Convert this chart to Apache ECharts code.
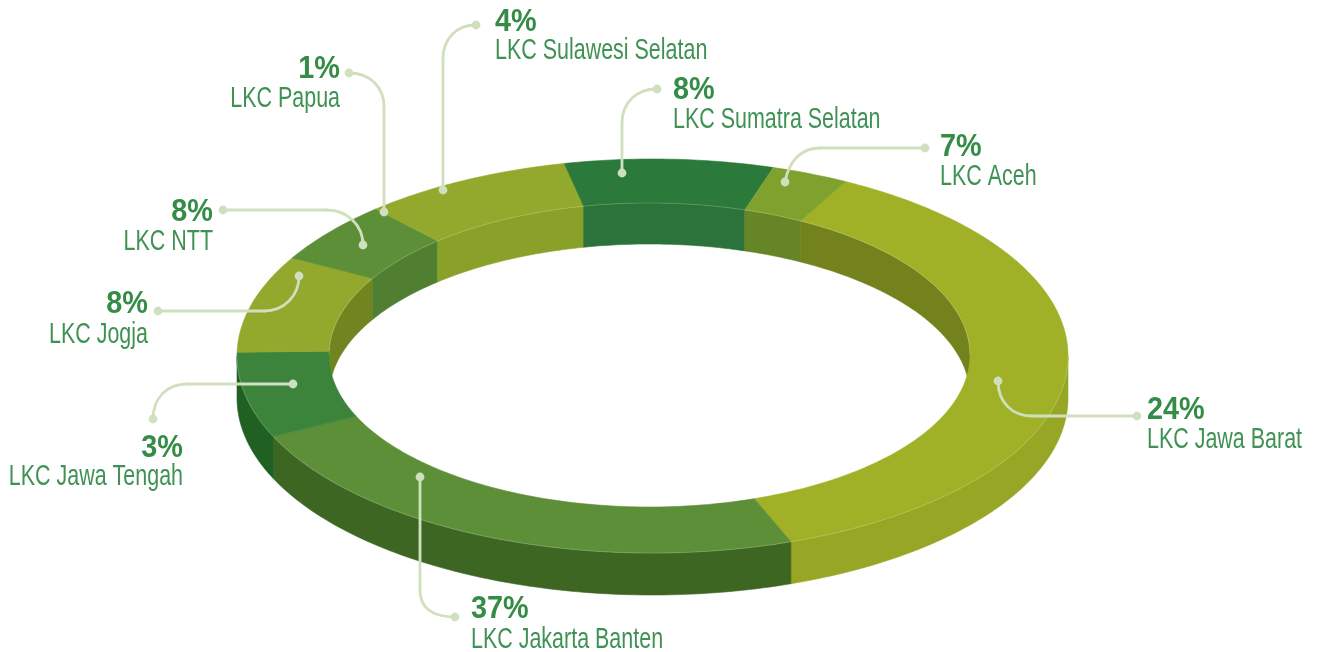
<!DOCTYPE html>
<html>
<head>
<meta charset="utf-8">
<title>LKC</title>
<script src="https://cdn.jsdelivr.net/npm/echarts@6/dist/echarts.min.js"></script>
<style>
  html, body { margin: 0; height: 100%; background: #fff; }
  #chart { width: 1317px; height: 652px; }
</style>
</head>
<body>
<div id="chart"></div>
<script>
// slices clockwise, starting at the Jawa Barat edge
const categories = ['LKC Jawa Barat', 'LKC Jakarta Banten', 'LKC Jawa Tengah', 'LKC Jogja', 'LKC NTT', 'LKC Papua', 'LKC Sulawesi Selatan', 'LKC Sumatra Selatan', 'LKC Aceh'];
// the printed numbers
const printedPercent = [24, 37, 3, 8, 8, 1, 4, 8, 7];
// the share each slice really takes up on the ring (printed numbers do not match the drawing)
const sliceShare = [36.9, 23.7, 7.0, 8.0, 5.1, 0, 8.2, 8.1, 3.0];

const topColors = ['#a0b128', '#5d8f38', '#3c843c', '#93a92d', '#5d8f38', '#5d8f38', '#93a92d', '#2c7a3b', '#7fa22f'];
const outerWallColors = ['#98a625', '#3e6623', '#216023', '#70851f', '#517f32', '#517f32', '#89a029', '#2b733a', '#668526'];
const innerWallColors = ['#73821c', '#3e6623', '#216023', '#70851f', '#517f32', '#517f32', '#89a029', '#2b733a', '#668526'];

const outer = { cx: 652.5, cy: 356, rx: 415.5, ry: 197 };
const inner = { cx: 649.5, cy: 355, rx: 320.5, ry: 152 };
const depth = 42;
const startAngle = 27.7;
// slice edges sit a little further round on the hole than on the rim
const innerSkew = 0.4;

const total = sliceShare.reduce((a, b) => a + b, 0);
const sliceAngles = [];
let running = 0;
sliceShare.forEach(v => {
  const a = echarts.number.linearMap(running, [0, total], [startAngle, startAngle + 360]);
  running += v;
  sliceAngles.push([a, echarts.number.linearMap(running, [0, total], [startAngle, startAngle + 360])]);
});

// angle is clockwise from the top of the ellipse
function onEllipse(e, deg, dy) {
  const r = deg * Math.PI / 180;
  return [e.cx + e.rx * Math.sin(r), e.cy - e.ry * Math.cos(r) + (dy || 0)];
}
function arcPoints(e, a, b, dy) {
  const n = Math.max(2, Math.ceil(Math.abs(b - a)));
  const pts = [];
  for (let i = 0; i <= n; i++) pts.push(onEllipse(e, a + (b - a) * i / n, dy));
  return pts;
}
// overlap of [a,b] with a window, also tried one turn further on
function clampTo(a, b, lo, hi) {
  for (const k of [0, 360, -360]) {
    const s = Math.max(a, lo + k), t = Math.min(b, hi + k);
    if (t > s) return [s, t];
  }
  return null;
}
function poly(points, color) {
  return {
    type: 'polygon',
    shape: { points: points },
    style: { fill: color, stroke: color, lineWidth: 0.6 }
  };
}

function renderTop(params, api) {
  const [a, b] = sliceAngles[api.value(0)];
  if (b - a <= 0) return { type: 'group', children: [] };
  const pts = arcPoints(outer, a, b).concat(arcPoints(inner, b + innerSkew, a + innerSkew));
  return poly(pts, topColors[api.value(0)]);
}
function renderOuterWall(params, api) {
  const i = api.value(0);
  const [a, b] = sliceAngles[i];
  const c = clampTo(a, b, 90, 270);
  if (!c) return { type: 'group', children: [] };
  const pts = arcPoints(outer, c[0], c[1]).concat(arcPoints(outer, c[1], c[0], depth));
  return poly(pts, outerWallColors[i]);
}
function renderInnerWall(params, api) {
  const i = api.value(0);
  const [a, b] = sliceAngles[i];
  // far half of the hole only
  const c = clampTo(a + innerSkew, b + innerSkew, -90, 90);
  if (!c) return { type: 'group', children: [] };
  const pts = arcPoints(inner, c[0], c[1]).concat(arcPoints(inner, c[1], c[0], depth - 1));
  return poly(pts, innerWallColors[i]);
}
// thin light seam where the top face meets the walls
function renderSeam() {
  const line = pts => ({
    type: 'polyline',
    shape: { points: pts },
    style: { fill: null, stroke: 'rgba(255,255,255,0.25)', lineWidth: 0.7 }
  });
  return {
    type: 'group',
    children: [line(arcPoints(outer, 90, 270)), line(arcPoints(inner, -90, 90))]
  };
}

const labelLayout = [
  { x: 1147, align: 'left', y1: 410, y2: 440 },
  { x: 471, align: 'left', y1: 609, y2: 640 },
  { x: 183, align: 'right', y1: 448, y2: 477 },
  { x: 148, align: 'right', y1: 304, y2: 335 },
  { x: 213, align: 'right', y1: 212, y2: 242 },
  { x: 340, align: 'right', y1: 69, y2: 99 },
  { x: 495, align: 'left', y1: 22, y2: 51 },
  { x: 673, align: 'left', y1: 90, y2: 120 },
  { x: 940, align: 'left', y1: 147, y2: 177 }
];
// leader lines: 8 numbers is a curve (x1,y1,cp1,cp2,x2,y2), 4 numbers a straight piece
const leaderSegments = [
  [[998, 381, 998, 402, 1012, 416, 1032, 416], [1032, 416, 1137, 416]],
  [[420, 477, 420, 590], [420, 590, 420, 606, 430, 617, 455, 617]],
  [[293, 384, 187, 384], [187, 384, 167, 384, 153, 398, 153, 419]],
  [[299, 276, 299, 296, 284, 311, 264, 311], [264, 311, 158, 311]],
  [[363, 245, 363, 225, 347, 210, 327, 210], [327, 210, 223, 210]],
  [[349, 73, 370, 73, 384, 87, 384, 107], [384, 107, 384, 212]],
  [[476, 25, 456, 25, 443, 39, 443, 59], [443, 59, 443, 190]],
  [[657, 89, 636, 89, 622, 103, 622, 123], [622, 123, 622, 173]],
  [[925, 148, 820, 148], [820, 148, 802, 148, 789, 160, 785, 182]]
];
const leaderDots = [
  [998, 381], [1137, 416], [420, 477], [455, 617], [293, 384], [153, 419], [299, 276], [158, 311],
  [363, 245], [223, 210], [349, 73], [384, 212], [476, 25], [443, 190], [657, 89], [622, 173],
  [925, 148], [785, 182]
];

const leaderStyle = { fill: null, stroke: '#d0e0bf', lineWidth: 2.8, lineCap: 'round' };
const graphics = [];
leaderSegments.forEach(segs => {
  segs.forEach(s => {
    if (s.length === 4) {
      graphics.push({ type: 'line', z: 50, shape: { x1: s[0], y1: s[1], x2: s[2], y2: s[3] }, style: leaderStyle });
    } else {
      graphics.push({
        type: 'bezierCurve', z: 50,
        shape: { x1: s[0], y1: s[1], cpx1: s[2], cpy1: s[3], cpx2: s[4], cpy2: s[5], x2: s[6], y2: s[7] },
        style: leaderStyle
      });
    }
  });
});
leaderDots.forEach(d => {
  graphics.push({ type: 'circle', z: 51, shape: { cx: d[0], cy: d[1], r: 4.4 }, style: { fill: '#d0e0bf' } });
});
// no narrow face is installed, so the text is squeezed sideways
categories.forEach((name, i) => {
  const l = labelLayout[i];
  graphics.push({
    type: 'text', z: 60, x: l.x, y: l.y1, scaleX: 0.93,
    style: {
      text: printedPercent[i] + '%', align: l.align, verticalAlign: 'middle',
      font: 'bold 31px "Liberation Sans"', fill: '#358c46'
    }
  });
  graphics.push({
    type: 'text', z: 60, x: l.x, y: l.y2, scaleX: 0.74,
    style: {
      text: name, align: l.align, verticalAlign: 'middle',
      font: '29px "Liberation Sans"', fill: '#3f9154'
    }
  });
});

const sliceIds = categories.map((c, i) => [i]);
const layer = (renderItem, z, data) => ({
  type: 'custom', coordinateSystem: 'none', silent: true, animation: false,
  z: z, data: data || sliceIds, renderItem: renderItem
});

const chart = echarts.init(document.getElementById('chart'), null, { renderer: 'canvas' });
chart.setOption({
  animation: false,
  backgroundColor: '#fff',
  series: [
    layer(renderInnerWall, 2),
    layer(renderOuterWall, 3),
    layer(renderTop, 4),
    layer(renderSeam, 5, [[0]])
  ],
  graphic: graphics
});
</script>
</body>
</html>
